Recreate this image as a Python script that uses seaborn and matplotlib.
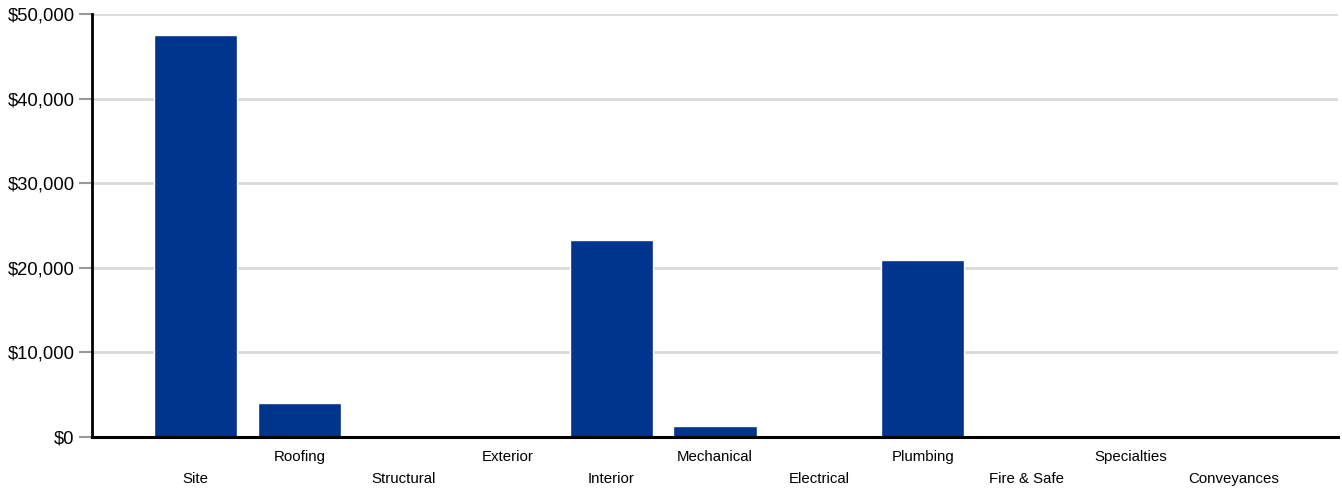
import matplotlib
matplotlib.use("Agg")
import matplotlib.pyplot as plt
import seaborn as sns
import pandas as pd
from matplotlib.ticker import FuncFormatter

categories = ["Site", "Roofing", "Structural", "Exterior", "Interior", "Mechanical",
              "Electrical", "Plumbing", "Fire & Safe", "Specialties", "Conveyances"]
values = [47500, 4000, 0, 0, 23300, 1250, 0, 20900, 0, 0, 0]
y_ticks = [0, 10000, 20000, 30000, 40000, 50000]

sns.set_theme(style="white")
plt.rcParams["font.family"] = ["Liberation Sans", "DejaVu Sans"]

df = pd.DataFrame({"category": categories, "value": values})

fig = plt.figure(figsize=(13.42, 4.91), dpi=100)
ax = fig.add_axes([92/1342, 1-437/491, (1338-92)/1342, (437-14)/491])

sns.barplot(data=df, x="category", y="value", color="#00358E", saturation=1,
            width=0.8, ax=ax, order=categories, zorder=3)

ax.set_xlim(-1, 11)
ax.set_ylim(0, 50000)
ax.set_yticks(y_ticks)
ax.yaxis.set_major_formatter(FuncFormatter(lambda v, p: f"${v:,.0f}"))
ax.grid(axis="y", color="#D9D9D9", linewidth=2, zorder=0)
ax.set_axisbelow(True)
ax.tick_params(axis="y", length=9.5, width=1.5, color="#999999", labelsize=13.3,
               labelcolor="black", pad=3, left=True)
ax.set_xticks([])
ax.set_xlabel("")
ax.set_ylabel("")

for s in ["top", "right"]:
    ax.spines[s].set_visible(False)
ax.spines["left"].set_color("black")
ax.spines["left"].set_linewidth(2)
ax.spines["bottom"].set_color("black")
ax.spines["bottom"].set_linewidth(2.2)
ax.spines["left"].set_zorder(5)
ax.spines["bottom"].set_zorder(5)

for i, lab in enumerate(categories):
    off = -20 if i % 2 == 1 else -42
    ax.annotate(lab, xy=(i, 0), xycoords=("data", "axes fraction"),
                xytext=(0, off * 0.72), textcoords="offset points",
                ha="center", va="center", fontsize=10.8, color="black")

fig.savefig("out.png", dpi=100)
